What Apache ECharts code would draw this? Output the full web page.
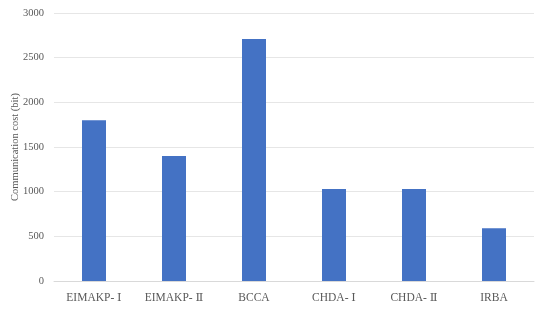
<!DOCTYPE html>
<html>
<head>
<meta charset="utf-8">
<script src="https://cdn.jsdelivr.net/npm/echarts@6/dist/echarts.min.js"></script>
<style>
  html, body { margin: 0; padding: 0; background: #fff; }
  #chart { width: 550px; height: 314px; }
</style>
</head>
<body>
<div id="chart"></div>
<script>
const schemes = ['EIMAKP- Ⅰ', 'EIMAKP- Ⅱ', 'BCCA', 'CHDA- Ⅰ', 'CHDA- Ⅱ', 'IRBA']
const costs = [1800, 1400, 2710, 1030, 1030, 590]
const yTicks = { min: 0, max: 3000, interval: 500 }

const textColor = '#595959'
const fontFamily = '"Liberation Serif", "DejaVu Serif", serif'

const chart = echarts.init(document.getElementById('chart'))
chart.setOption({
  animation: false,
  grid: {
    left: 54,
    right: 16,
    top: 13,
    bottom: 33,
    containLabel: false,
    outerBoundsMode: 'none'
  },
  xAxis: {
    type: 'category',
    data: schemes,
    axisTick: { show: false },
    axisLine: { lineStyle: { color: '#d9d9d9' } },
    axisLabel: {
      color: textColor,
      fontFamily: fontFamily,
      fontSize: 11.5,
      margin: 11
    }
  },
  yAxis: {
    type: 'value',
    min: yTicks.min,
    max: yTicks.max,
    interval: yTicks.interval,
    name: 'Communication cost (bit)',
    nameLocation: 'middle',
    nameGap: 33,
    nameMoveOverlap: false,
    nameTextStyle: {
      color: textColor,
      fontFamily: fontFamily,
      fontSize: 10.5
    },
    axisLine: { show: false },
    axisTick: { show: false },
    axisLabel: {
      color: textColor,
      fontFamily: fontFamily,
      fontSize: 10.5,
      margin: 10,
      formatter: v => String(v)
    },
    splitLine: { lineStyle: { color: '#e6e6e6' } }
  },
  series: [
    {
      type: 'bar',
      data: costs,
      barWidth: 24,
      itemStyle: { color: '#4472c4' }
    }
  ]
})
</script>
</body>
</html>
